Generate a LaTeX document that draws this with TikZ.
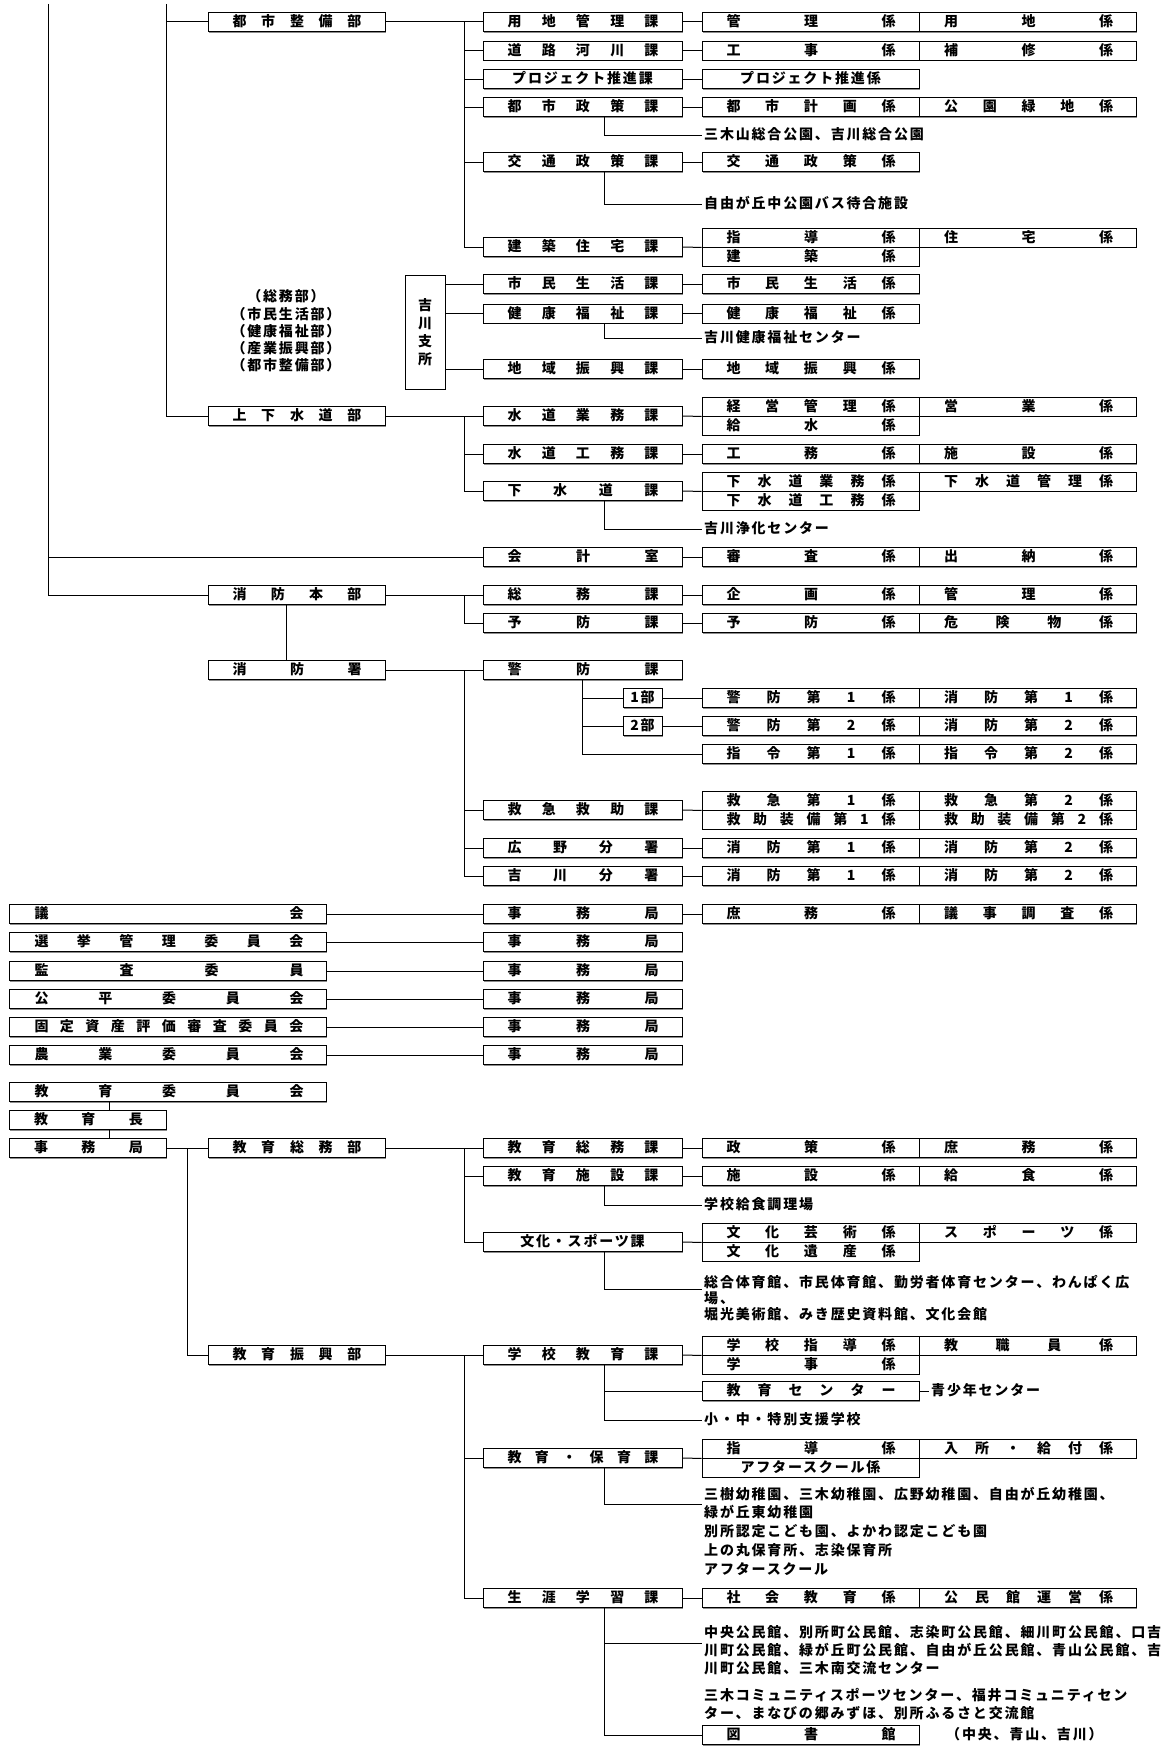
\documentclass[tikz,border=0pt]{standalone}
\usepackage{fontspec}
\setmainfont{Noto Sans CJK JP}[LetterSpace=13]
\usetikzlibrary{shadows}
\makeatletter
\def\jsp#1#2{\hbox to #1{\jsp@a#2\relax}}
\def\jsp@a#1{\ifx\relax#1\else#1\expandafter\jsp@b\fi}
\def\jsp@b#1{\ifx\relax#1\else\hfill#1\expandafter\jsp@b\fi}
\makeatother
\newcommand\KA[1]{\hspace*{1pt}\jsp{151pt}{#1}}
\newcommand\KK[1]{\hspace*{1pt}\jsp{169pt}{#1}}
\newcommand\BU[1]{\hspace*{1pt}\jsp{129pt}{#1}}
\newcommand\LB[1]{\hspace*{3pt}\jsp{269pt}{#1}}
\newcommand\SB[1]{\hspace*{2pt}\jsp{109pt}{#1}}
\tikzset{
 frame/.style={draw, line width=0.9pt, fill=white, inner sep=0pt,
   general shadow={fill=black!45, shadow xshift=0.8pt, shadow yshift=-1.4pt}},
 box/.style={frame, minimum height=19pt, text height=11pt, text depth=1.5pt},
 bu/.style={box, minimum width=177pt},
 ka/.style={box, minimum width=199pt},
 kk/.style={box, minimum width=217pt},
 lb/.style={box, minimum width=317pt},
 sb/.style={box, minimum width=157pt},
 txt/.style={anchor=west, inner xsep=2pt, inner ysep=0pt, text height=11pt, text depth=1.5pt},
 ln/.style={line width=1pt},
}
\newcommand\pair[4]{%
 \node[kk] (#1a) at (810.5,#2) {\KK{#3}};
 \node[kk] (#1b) at (1028,#2) {\KK{#4}};}
\begin{document}
\begin{tikzpicture}[x=1pt,y=-1pt,font=\fontsize{14pt}{17pt}\selectfont\bfseries]
\fill[white] (0,0) rectangle (1175,1753);
\useasboundingbox (0,0) rectangle (1175,1753);
\coordinate (tL0) at (48,4);
\coordinate (tL1) at (166,4);
\coordinate (xK) at (464,0);
\coordinate (xS) at (604,0);
\coordinate (xF) at (582,0);
\coordinate (xE) at (187,0);
\coordinate (xH) at (286,0);
\coordinate (xC) at (109,0);

% ---------- 都市整備部
\node[bu] (b1) at (296.5,22) {\BU{都市整備部}};
\node[ka] (k11) at (582.5,22) {\KA{用地管理課}};
\pair{g11}{22}{管理係}{用地係}
\node[ka] (k12) at (582.5,50.5) {\KA{道路河川課}};
\pair{g12}{50.5}{工事係}{補修係}
\node[ka] (k13) at (582.5,79) {プロジェクト推進課};
\node[kk] (g13a) at (810.5,79) {プロジェクト推進係};
\node[ka] (k14) at (582.5,107) {\KA{都市政策課}};
\pair{g14}{107}{都市計画係}{公園緑地係}
\node[txt] (t14) at (702,135) {三木山総合公園、吉川総合公園};
\node[ka] (k15) at (582.5,162) {\KA{交通政策課}};
\node[kk] (g15a) at (810.5,162) {\KK{交通政策係}};
\node[txt] (t15) at (702,204) {自由が丘中公園バス待合施設};
\node[ka] (k16) at (582.5,247) {\KA{建築住宅課}};
\pair{g16}{237.5}{指導係}{住宅係}
\node[kk] (g16c) at (810.5,256.5) {\KK{建築係}};

% ---------- 吉川支所
\node[frame, minimum width=40pt, minimum height=114pt, align=center,
  font=\fontsize{14pt}{18pt}\selectfont\bfseries] (yk) at (425,332) {吉\\川\\支\\所};
\node[align=center, inner sep=0pt, font=\fontsize{14pt}{17.2pt}\selectfont\bfseries] (pr) at (286,331)
  {（総務部）\\（市民生活部）\\（健康福祉部）\\（産業振興部）\\（都市整備部）};
\node[ka] (k21) at (582.5,284) {\KA{市民生活課}};
\node[kk] (g21a) at (810.5,284) {\KK{市民生活係}};
\node[ka] (k22) at (582.5,313.5) {\KA{健康福祉課}};
\node[kk] (g22a) at (810.5,313.5) {\KK{健康福祉係}};
\node[txt] (t22) at (702,338) {吉川健康福祉センター};
\node[ka] (k23) at (582.5,369) {\KA{地域振興課}};
\node[kk] (g23a) at (810.5,369) {\KK{地域振興係}};

% ---------- 上下水道部
\node[bu] (b2) at (296.5,416) {\BU{上下水道部}};
\node[ka] (k31) at (582.5,416) {\KA{水道業務課}};
\pair{g31}{406.5}{経営管理係}{営業係}
\node[kk] (g31c) at (810.5,425.5) {\KK{給水係}};
\node[ka] (k32) at (582.5,454) {\KA{水道工務課}};
\pair{g32}{454}{工務係}{施設係}
\node[ka] (k33) at (582.5,491) {\KA{下水道課}};
\pair{g33}{481.5}{下水道業務係}{下水道管理係}
\node[kk] (g33c) at (810.5,500.5) {\KK{下水道工務係}};
\node[txt] (t33) at (702,529) {吉川浄化センター};

% ---------- 会計室
\node[ka] (k4) at (582.5,557) {\KA{会計室}};
\pair{g4}{557}{審査係}{出納係}

% ---------- 消防
\node[bu] (b5) at (296.5,595) {\BU{消防本部}};
\node[ka] (k51) at (582.5,595) {\KA{総務課}};
\pair{g51}{595}{企画係}{管理係}
\node[ka] (k52) at (582.5,623) {\KA{予防課}};
\pair{g52}{623}{予防係}{危険物係}
\node[bu] (b6) at (296.5,670) {\BU{消防署}};
\node[ka] (k61) at (582.5,670) {\KA{警防課}};
\node[box, minimum width=39pt] (p1) at (642.5,698) {1部};
\pair{g61}{698}{警防第1係}{消防第1係}
\node[box, minimum width=39pt] (p2) at (642.5,726) {2部};
\pair{g62}{726}{警防第2係}{消防第2係}
\pair{g63}{754}{指令第1係}{指令第2係}
\node[ka] (k62) at (582.5,810) {\KA{救急救助課}};
\pair{g64}{800.5}{救急第1係}{救急第2係}
\pair{g65}{819.5}{救助装備第1係}{救助装備第2係}
\node[ka] (k63) at (582.5,848) {\KA{広野分署}};
\pair{g66}{848}{消防第1係}{消防第2係}
\node[ka] (k64) at (582.5,876) {\KA{吉川分署}};
\pair{g67}{876}{消防第1係}{消防第2係}

% ---------- 委員会
\node[lb] (l1) at (167.5,914) {\LB{議会}};
\node[ka] (e1) at (582.5,914) {\KA{事務局}};
\pair{g7}{914}{庶務係}{議事調査係}
\node[lb] (l2) at (167.5,942) {\LB{選挙管理委員会}};
\node[ka] (e2) at (582.5,942) {\KA{事務局}};
\node[lb] (l3) at (167.5,971) {\LB{監査委員}};
\node[ka] (e3) at (582.5,971) {\KA{事務局}};
\node[lb] (l4) at (167.5,999) {\LB{公平委員会}};
\node[ka] (e4) at (582.5,999) {\KA{事務局}};
\node[lb] (l5) at (167.5,1027) {\LB{固定資産評価審査委員会}};
\node[ka] (e5) at (582.5,1027) {\KA{事務局}};
\node[lb] (l6) at (167.5,1055) {\LB{農業委員会}};
\node[ka] (e6) at (582.5,1055) {\KA{事務局}};

% ---------- 教育
\node[lb] (m1) at (167.5,1092) {\LB{教育委員会}};
\node[sb] (m2) at (87.5,1120) {\SB{教育長}};
\node[sb] (m3) at (87.5,1148) {\SB{事務局}};
\node[bu] (b7) at (296.5,1148) {\BU{教育総務部}};
\node[ka] (k71) at (582.5,1148) {\KA{教育総務課}};
\pair{g71}{1148}{政策係}{庶務係}
\node[ka] (k72) at (582.5,1176) {\KA{教育施設課}};
\pair{g72}{1176}{施設係}{給食係}
\node[txt] (t72) at (702,1205) {学校給食調理場};
\node[ka] (k73) at (582.5,1242) {文化・スポーツ課};
\pair{g73}{1232.5}{文化芸術係}{スポーツ係}
\node[kk] (g73c) at (810.5,1251.5) {\KK{文化遺産係}};
\coordinate (c73) at (702,1289);
\node[txt] (t73a) at (702,1283) {総合体育館、市民体育館、勤労者体育センター、わんぱく広};
\node[txt] (t73b) at (702,1299) {場、};
\node[txt] (t73c) at (702,1315) {堀光美術館、みき歴史資料館、文化会館};

\node[bu] (b8) at (296.5,1355) {\BU{教育振興部}};
\node[ka] (k81) at (582.5,1355) {\KA{学校教育課}};
\pair{g81}{1345.5}{学校指導係}{教職員係}
\node[kk] (g81c) at (810.5,1364.5) {\KK{学事係}};
\node[kk] (g84) at (810.5,1391) {\KK{教育センター}};
\node[txt] (t84) at (929,1391) {青少年センター};
\node[txt] (t81) at (702,1420) {小・中・特別支援学校};
\node[ka] (k82) at (582.5,1458) {\KA{教育・保育課}};
\pair{g82}{1448.5}{指導係}{入所・給付係}
\node[kk] (g82c) at (810.5,1467.5) {アフタースクール係};
\coordinate (c82) at (702,1504);
\node[txt] (t82a) at (702,1495) {三樹幼稚園、三木幼稚園、広野幼稚園、自由が丘幼稚園、};
\node[txt] (t82b) at (702,1513) {緑が丘東幼稚園};
\node[txt] (t82c) at (702,1532) {別所認定こども園、よかわ認定こども園};
\node[txt] (t82d) at (702,1551) {上の丸保育所、志染保育所};
\node[txt] (t82e) at (702,1570) {アフタースクール};
\node[ka] (k83) at (582.5,1598) {\KA{生涯学習課}};
\pair{g83}{1598}{社会教育係}{公民館運営係}
\coordinate (c83) at (702,1643);
\node[txt] (t83a) at (702,1633) {中央公民館、別所町公民館、志染町公民館、細川町公民館、口吉};
\node[txt] (t83b) at (702,1651) {川町公民館、緑が丘町公民館、自由が丘公民館、青山公民館、吉};
\node[txt] (t83c) at (702,1669) {川町公民館、三木南交流センター};
\node[txt] (t83d) at (702,1696) {三木コミュニティスポーツセンター、福井コミュニティセン};
\node[txt] (t83e) at (702,1714) {ター、まなびの郷みずほ、別所ふるさと交流館};
\node[kk] (g85) at (810.5,1735) {\KK{図書館}};
\node[txt] (t85) at (944,1735) {（中央、青山、吉川）};

% ================= connectors
\draw[ln] (tL0) |- (b5.west);
\draw[ln] (k4.west -| tL0) -- (k4.west);
\draw[ln] (tL1) |- (b2.west);
\draw[ln] (b1.west -| tL1) -- (b1.west);
% 都市整備部
\draw[ln] (b1.east) -- (k11.west);
\draw[ln] (k11.west -| xK) -- (k16.west -| xK);
\foreach \n in {k12,k13,k14,k15,k16} \draw[ln] (\n.west -| xK) -- (\n.west);
\draw[ln] (k11.east) -- (g11a.west);
\draw[ln] (k12.east) -- (g12a.west);
\draw[ln] (k13.east) -- (g13a.west);
\draw[ln] (k14.east) -- (g14a.west);
\draw[ln] (k15.east) -- (g15a.west);
\draw[ln] (k16.east) -- (g16a.south west);
\draw[ln] (k14.south -| xS) |- (t14.west);
\draw[ln] (k15.south -| xS) |- (t15.west);
% 吉川支所
\foreach \n in {k21,k22,k23} \draw[ln] (\n.west -| yk.east) -- (\n.west);
\draw[ln] (k21.east) -- (g21a.west);
\draw[ln] (k22.east) -- (g22a.west);
\draw[ln] (k23.east) -- (g23a.west);
\draw[ln] (k22.south -| xS) |- (t22.west);
% 上下水道部
\draw[ln] (b2.east) -- (k31.west);
\draw[ln] (k31.west -| xK) -- (k33.west -| xK);
\foreach \n in {k32,k33} \draw[ln] (\n.west -| xK) -- (\n.west);
\draw[ln] (k31.east) -- (g31a.south west);
\draw[ln] (k32.east) -- (g32a.west);
\draw[ln] (k33.east) -- (g33a.south west);
\draw[ln] (k33.south -| xS) |- (t33.west);
\draw[ln] (k4.east) -- (g4a.west);
% 消防
\draw[ln] (b5.east) -- (k51.west);
\draw[ln] (k51.west -| xK) |- (k52.west);
\draw[ln] (k51.east) -- (g51a.west);
\draw[ln] (k52.east) -- (g52a.west);
\draw[ln] (b5.south -| xH) -- (b6.north -| xH);
\draw[ln] (b6.east) -- (k61.west);
\draw[ln] (k61.west -| xK) -- (k64.west -| xK);
\foreach \n in {k62,k63,k64} \draw[ln] (\n.west -| xK) -- (\n.west);
\draw[ln] (k61.south -| xF) |- (g63a.west);
\draw[ln] (p1.west -| xF) -- (p1.west);
\draw[ln] (p2.west -| xF) -- (p2.west);
\draw[ln] (p1.east) -- (g61a.west);
\draw[ln] (p2.east) -- (g62a.west);
\draw[ln] (k62.east) -- (g64a.south west);
\draw[ln] (k63.east) -- (g66a.west);
\draw[ln] (k64.east) -- (g67a.west);
% 委員会
\foreach \i in {1,...,6} \draw[ln] (l\i.east) -- (e\i.west);
\draw[ln] (e1.east) -- (g7a.west);
% 教育
\draw[ln] (m1.south -| xC) -- (m2.north -| xC);
\draw[ln] (m2.south -| xC) -- (m3.north -| xC);
\draw[ln] (m3.east) -- (b7.west);
\draw[ln] (b7.west -| xE) |- (b8.west);
\draw[ln] (b7.east) -- (k71.west);
\draw[ln] (k71.west -| xK) -- (k73.west -| xK);
\foreach \n in {k72,k73} \draw[ln] (\n.west -| xK) -- (\n.west);
\draw[ln] (k71.east) -- (g71a.west);
\draw[ln] (k72.east) -- (g72a.west);
\draw[ln] (k73.east) -- (g73a.south west);
\draw[ln] (k72.south -| xS) |- (t72.west);
\draw[ln] (k73.south -| xS) |- (c73);
\draw[ln] (b8.east) -- (k81.west);
\draw[ln] (k81.west -| xK) -- (k83.west -| xK);
\foreach \n in {k82,k83} \draw[ln] (\n.west -| xK) -- (\n.west);
\draw[ln] (k81.east) -- (g81a.south west);
\draw[ln] (k81.south -| xS) |- (t81.west);
\draw[ln] (g84.west -| xS) -- (g84.west);
\draw[ln] (g84.east) -- (t84.west);
\draw[ln] (k82.east) -- (g82a.south west);
\draw[ln] (k82.south -| xS) |- (c82);
\draw[ln] (k83.east) -- (g83a.west);
\draw[ln] (k83.south -| xS) |- (g85.west);
\draw[ln] (c83 -| xS) -- (c83);
\end{tikzpicture}
\end{document}
